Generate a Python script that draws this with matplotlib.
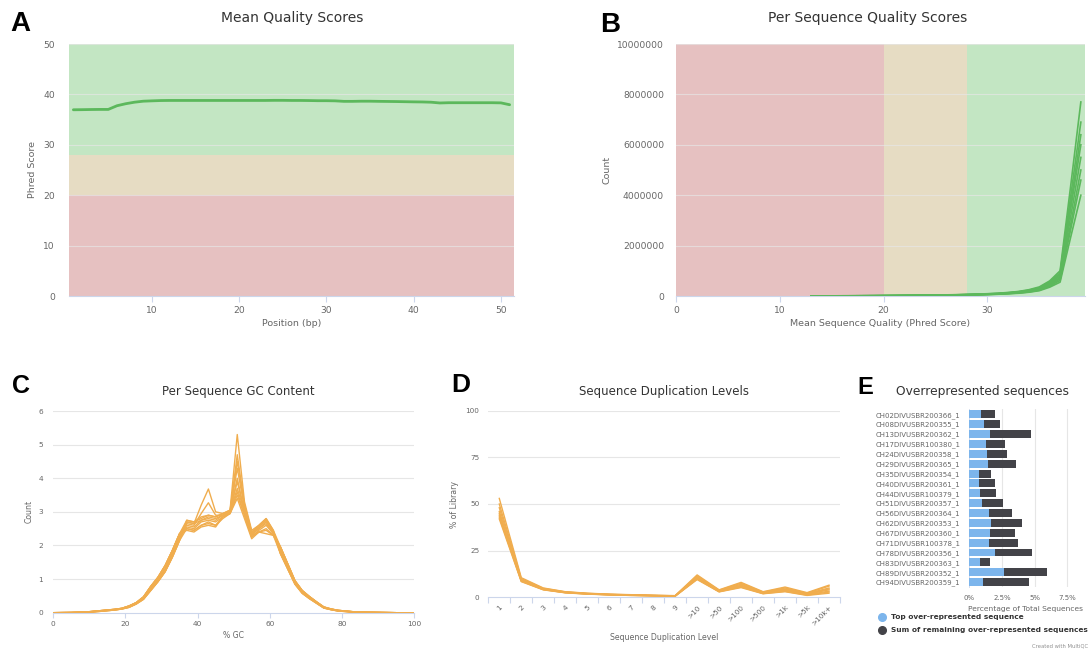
import matplotlib
matplotlib.use('Agg')
import matplotlib.pyplot as plt
from matplotlib.lines import Line2D

plt.rcParams['font.family'] = ['DejaVu Sans']

# ---------------- data ----------------
# A: mean quality per position
posA = list(range(1, 52))
meanA = [36.95, 36.97, 37.0, 37.02, 37.02, 37.75, 38.15, 38.45, 38.65, 38.72,
         38.78, 38.8, 38.8, 38.8, 38.8, 38.8, 38.8, 38.8, 38.8, 38.8,
         38.8, 38.8, 38.8, 38.82, 38.82, 38.8, 38.8, 38.78, 38.75, 38.75,
         38.72, 38.62, 38.62, 38.65, 38.65, 38.62, 38.6, 38.58, 38.55, 38.52,
         38.5, 38.45, 38.3, 38.35, 38.35, 38.35, 38.35, 38.35, 38.35, 38.32,
         37.95]

# B: per sequence quality (counts in millions)
x_qual = [13, 15, 17, 19, 21, 23, 25, 27, 29, 30, 31, 32, 33, 34, 35, 36, 37, 38, 39]
q1 = [0.004, 0.006, 0.009, 0.013, 0.019, 0.027, 0.037, 0.052, 0.075, 0.09, 0.11, 0.14, 0.18, 0.25, 0.36, 0.60, 1.00, 4.30, 7.70]
q2 = [0.004, 0.006, 0.008, 0.012, 0.017, 0.025, 0.034, 0.048, 0.070, 0.085, 0.10, 0.13, 0.17, 0.23, 0.33, 0.55, 0.92, 3.90, 6.90]
q3 = [0.003, 0.005, 0.008, 0.011, 0.016, 0.023, 0.032, 0.045, 0.065, 0.08, 0.095, 0.12, 0.16, 0.21, 0.31, 0.51, 0.86, 3.60, 6.40]
q4 = [0.003, 0.005, 0.007, 0.010, 0.015, 0.021, 0.030, 0.042, 0.060, 0.075, 0.09, 0.11, 0.15, 0.20, 0.29, 0.48, 0.80, 3.40, 6.00]
q5 = [0.003, 0.004, 0.006, 0.009, 0.014, 0.020, 0.028, 0.039, 0.056, 0.07, 0.085, 0.105, 0.14, 0.19, 0.27, 0.45, 0.74, 3.10, 5.50]
q6 = [0.002, 0.004, 0.006, 0.009, 0.013, 0.018, 0.026, 0.036, 0.052, 0.065, 0.08, 0.10, 0.13, 0.17, 0.25, 0.42, 0.68, 2.80, 5.00]
q7 = [0.002, 0.003, 0.005, 0.008, 0.012, 0.017, 0.024, 0.034, 0.048, 0.06, 0.075, 0.095, 0.12, 0.16, 0.23, 0.39, 0.62, 2.60, 4.60]
q8 = [0.002, 0.003, 0.005, 0.007, 0.011, 0.015, 0.022, 0.031, 0.044, 0.055, 0.07, 0.09, 0.11, 0.15, 0.21, 0.35, 0.55, 2.30, 4.00]
qual_series = [q1, q2, q3, q4, q5, q6, q7, q8]
yticks_B = [0, 2000000, 4000000, 6000000, 8000000, 10000000]
ylabels_B = ['0', '2000000', '4000000', '6000000', '8000000', '10000000']

# C: per sequence GC content
x_gc = [0, 5, 9, 13, 17, 19, 21, 23, 25, 27, 29, 31, 33, 35, 37, 39, 41, 43, 45, 47,
        49, 51, 53, 55, 57, 59, 61, 63, 65, 67, 69, 71, 73, 75, 77, 79, 83, 87, 91, 95, 100]
gc_left_a = [0, 0.005, 0.02, 0.06, 0.10, 0.13, 0.20, 0.30, 0.47, 0.78, 1.05, 1.40, 1.85, 2.35]
gc_left_b = [0, 0.004, 0.015, 0.05, 0.09, 0.12, 0.18, 0.28, 0.44, 0.72, 0.98, 1.30, 1.75, 2.25]
gc_left_c = [0, 0.003, 0.01, 0.04, 0.08, 0.11, 0.16, 0.26, 0.40, 0.66, 0.92, 1.22, 1.65, 2.15]
gc_right_a = [1.95, 1.45, 0.95, 0.66, 0.48, 0.32, 0.17, 0.11, 0.07, 0.03, 0.01, 0.005, 0, 0]
gc_right_b = [1.85, 1.38, 0.90, 0.62, 0.45, 0.30, 0.15, 0.10, 0.06, 0.025, 0.01, 0.004, 0, 0]
gc_right_c = [1.75, 1.30, 0.85, 0.58, 0.42, 0.28, 0.14, 0.09, 0.05, 0.02, 0.008, 0.003, 0, 0]
gc_mid_1 = [2.75, 2.70, 2.80, 2.90, 2.85, 2.95, 3.05, 5.30, 3.30, 2.45, 2.60, 2.80, 2.45]
gc_mid_2 = [2.70, 2.65, 3.20, 3.68, 3.00, 2.95, 3.00, 4.70, 3.20, 2.40, 2.55, 2.75, 2.40]
gc_mid_3 = [2.65, 2.60, 2.95, 3.27, 2.90, 2.90, 3.00, 4.30, 3.10, 2.35, 2.50, 2.70, 2.40]
gc_mid_4 = [2.60, 2.55, 2.75, 2.85, 2.80, 2.90, 3.00, 3.90, 3.00, 2.30, 2.50, 2.65, 2.35]
gc_mid_5 = [2.55, 2.50, 2.70, 2.75, 2.70, 2.85, 2.95, 3.60, 2.90, 2.25, 2.45, 2.60, 2.35]
gc_mid_6 = [2.50, 2.45, 2.60, 2.70, 2.60, 2.80, 2.95, 3.40, 2.80, 2.20, 2.40, 2.50, 2.30]
gc_mid_7 = [2.45, 2.40, 2.55, 2.60, 2.55, 2.85, 3.00, 4.00, 3.00, 2.30, 2.40, 2.45, 2.30]
gc_mid_8 = [2.70, 2.65, 2.75, 2.80, 2.75, 2.90, 3.00, 3.70, 3.00, 2.35, 2.55, 2.75, 2.40]
gc_mid_9 = [2.75, 2.70, 2.85, 2.90, 2.85, 2.95, 3.05, 4.50, 3.20, 2.40, 2.60, 2.80, 2.45]
gc_mid_10 = [2.50, 2.45, 2.60, 2.65, 2.60, 2.85, 2.95, 3.50, 2.90, 2.25, 2.40, 2.35, 2.30]
gc_lefts = [gc_left_a, gc_left_b, gc_left_c]
gc_rights = [gc_right_a, gc_right_b, gc_right_c]
gc_mids = [gc_mid_1, gc_mid_2, gc_mid_3, gc_mid_4, gc_mid_5,
           gc_mid_6, gc_mid_7, gc_mid_8, gc_mid_9, gc_mid_10]

# D: sequence duplication levels
dup_levels = ['1', '2', '3', '4', '5', '6', '7', '8', '9', '>10', '>50', '>100',
              '>500', '>1k', '>5k', '>10k+']
d1 = [53, 10.5, 5.0, 3.0, 2.2, 1.7, 1.4, 1.1, 0.9, 12.0, 4.0, 8.0, 3.0, 5.5, 2.5, 6.5]
d2 = [50, 10.0, 4.8, 2.9, 2.1, 1.6, 1.3, 1.0, 0.8, 11.5, 3.8, 7.5, 2.8, 5.0, 2.2, 6.0]
d3 = [48, 9.5, 4.5, 2.8, 2.0, 1.5, 1.2, 1.0, 0.8, 11.0, 3.5, 7.0, 2.6, 4.5, 2.0, 5.0]
d4 = [46, 9.2, 4.4, 2.7, 1.9, 1.5, 1.2, 0.9, 0.7, 10.5, 3.3, 6.5, 2.4, 4.2, 1.8, 4.5]
d5 = [45, 9.0, 4.3, 2.6, 1.9, 1.4, 1.1, 0.9, 0.7, 10.2, 3.2, 6.0, 2.2, 4.0, 1.6, 4.0]
d6 = [44, 8.8, 4.2, 2.5, 1.8, 1.4, 1.1, 0.9, 0.7, 10.0, 3.1, 5.8, 2.1, 3.6, 1.4, 3.3]
d7 = [43, 8.6, 4.1, 2.5, 1.8, 1.3, 1.0, 0.8, 0.6, 9.8, 3.0, 5.5, 2.0, 3.2, 1.2, 2.8]
d8 = [42, 8.4, 4.0, 2.4, 1.7, 1.3, 1.0, 0.8, 0.6, 9.5, 2.9, 5.2, 1.9, 3.0, 1.0, 2.2]
dup_series = [d1, d2, d3, d4, d5, d6, d7, d8]

# E: overrepresented sequences (% of total)
samples = ['CH02DIVUSBR200366_1', 'CH08DIVUSBR200355_1', 'CH13DIVUSBR200362_1',
           'CH17DIVUSBR100380_1', 'CH24DIVUSBR200358_1', 'CH29DIVUSBR200365_1',
           'CH35DIVUSBR200354_1', 'CH40DIVUSBR200361_1', 'CH44DIVUSBR100379_1',
           'CH51DIVUSBR200357_1', 'CH56DIVUSBR200364_1', 'CH62DIVUSBR200353_1',
           'CH67DIVUSBR200360_1', 'CH71DIVUSBR100378_1', 'CH78DIVUSBR200356_1',
           'CH83DIVUSBR200363_1', 'CH89DIVUSBR200352_1', 'CH94DIVUSBR200359_1']
top_pct = [0.92, 1.09, 1.60, 1.25, 1.36, 1.46, 0.71, 0.76, 0.85, 0.99, 1.48, 1.66,
           1.61, 1.53, 1.95, 0.78, 2.62, 1.04]
remaining_pct = [1.03, 1.24, 3.12, 1.50, 1.50, 2.09, 0.98, 1.18, 1.17, 1.61, 1.77, 2.34,
                 1.89, 2.16, 2.83, 0.78, 3.28, 3.53]
xticks_E = [0, 2.5, 5, 7.5]
xlabels_E = ['0%', '2.5%', '5%', '7.5%']

# ---------------- styles ----------------
W, H = 1091, 660
GREEN_BAND = '#c3e6c3'
ORANGE_BAND = '#e6dcc3'
RED_BAND = '#e6c1c1'
LINE_GREEN = '#5cb85c'
ORANGE = '#f0ad4e'
GRID = '#e6e6e6'
AXLINE = '#ccd6eb'
TICKC = '#666666'
TITLEC = '#333333'
BLUE = '#7cb5ec'
DARK = '#434348'

fig = plt.figure(figsize=(W / 100, H / 100), dpi=100)


def ax_px(L, T, R, B):
    return fig.add_axes([L / W, 1 - B / H, (R - L) / W, (B - T) / H])


def pt(p):
    return p * 72 / 100


def ftext(x, y, s, **kw):
    return fig.text(x / W, 1 - y / H, s, **kw)


def style_axes(ax):
    for s in ['top', 'right', 'left']:
        ax.spines[s].set_visible(False)
    ax.spines['bottom'].set_color(AXLINE)
    ax.spines['bottom'].set_linewidth(0.8)
    ax.set_facecolor('none')


def panel_letter(x, y, s, size):
    ftext(x, y, s, fontsize=size, fontweight='bold', family='Liberation Sans',
          ha='center', va='center', color='black')


# ---------------- A ----------------
axA = ax_px(69, 44, 514, 296)
style_axes(axA)
axA.axhspan(28, 50, color=GREEN_BAND, lw=0, zorder=0)
axA.axhspan(20, 28, color=ORANGE_BAND, lw=0, zorder=0)
axA.axhspan(0, 20, color=RED_BAND, lw=0, zorder=0)
for yv in [10, 20, 30, 40, 50]:
    axA.axhline(yv, color=GRID, lw=0.8, zorder=1, alpha=0.7)
axA.plot(posA, meanA, color=LINE_GREEN, lw=2.0, zorder=3, solid_capstyle='round')
axA.set_xlim(0.5, 51.5)
axA.set_ylim(0, 50)
axA.set_xticks([10, 20, 30, 40, 50])
axA.set_yticks([0, 10, 20, 30, 40, 50])
axA.tick_params(axis='x', length=pt(6), color=AXLINE, width=0.8, labelsize=6.6,
                labelcolor=TICKC, pad=pt(4))
axA.tick_params(axis='y', length=0, labelsize=6.6, labelcolor=TICKC, pad=pt(14))
axA.set_xlabel('Position (bp)', fontsize=6.8, color=TICKC, labelpad=pt(4))
axA.set_ylabel('Phred Score', fontsize=6.8, color=TICKC, labelpad=pt(6))
ftext(292, 18, 'Mean Quality Scores', fontsize=10, color=TITLEC, ha='center', va='center')
panel_letter(20, 24, 'A', 20)

# ---------------- B ----------------
axB = ax_px(676, 44, 1085, 296)
style_axes(axB)
axB.axvspan(0, 20, color=RED_BAND, lw=0, zorder=0)
axB.axvspan(20, 28, color=ORANGE_BAND, lw=0, zorder=0)
axB.axvspan(28, 40, color=GREEN_BAND, lw=0, zorder=0)
for yv in yticks_B[1:]:
    axB.axhline(yv, color=GRID, lw=0.8, zorder=1, alpha=0.7)
for s in qual_series:
    axB.plot(x_qual, [v * 1e6 for v in s], color=LINE_GREEN, lw=1.2, zorder=3)
axB.set_xlim(0, 39.4)
axB.set_ylim(0, 10000000)
axB.set_xticks([0, 10, 20, 30])
axB.set_yticks(yticks_B)
axB.set_yticklabels(ylabels_B)
axB.tick_params(axis='x', length=pt(6), color=AXLINE, width=0.8, labelsize=6.6,
                labelcolor=TICKC, pad=pt(4))
axB.tick_params(axis='y', length=0, labelsize=6.6, labelcolor=TICKC, pad=pt(12))
axB.set_xlabel('Mean Sequence Quality (Phred Score)', fontsize=6.8, color=TICKC,
               labelpad=pt(4))
axB.set_ylabel('Count', fontsize=6.8, color=TICKC, labelpad=pt(6))
ftext(868, 18, 'Per Sequence Quality Scores', fontsize=10, color=TITLEC,
      ha='center', va='center')
panel_letter(610, 25, 'B', 20)

# ---------------- C ----------------
axC = ax_px(53.3, 411, 414, 612.7)
style_axes(axC)
for yv in [1, 2, 3, 4, 5, 6]:
    axC.axhline(yv, color=GRID, lw=0.8, zorder=0)
for i, mid in enumerate(gc_mids):
    series = gc_lefts[i % 3] + mid + gc_rights[i % 3]
    axC.plot(x_gc, series, color=ORANGE, lw=1.0, zorder=3)
axC.set_xlim(0, 100)
axC.set_ylim(0, 6)
axC.set_xticks([0, 20, 40, 60, 80, 100])
axC.set_yticks([0, 1, 2, 3, 4, 5, 6])
axC.tick_params(axis='x', length=pt(5), color=AXLINE, width=0.8, labelsize=5.3,
                labelcolor=TICKC, pad=pt(3))
axC.tick_params(axis='y', length=0, labelsize=5.3, labelcolor=TICKC, pad=pt(10))
axC.set_xlabel('% GC', fontsize=5.6, color=TICKC, labelpad=pt(4))
axC.set_ylabel('Count', fontsize=5.6, color=TICKC, labelpad=pt(5))
ftext(238, 391, 'Per Sequence GC Content', fontsize=8.5, color=TITLEC,
      ha='center', va='center')
panel_letter(21, 386, 'C', 18)

# ---------------- D ----------------
axD = ax_px(488.3, 410.7, 840, 597.3)
style_axes(axD)
for yv in [25, 50, 75, 100]:
    axD.axhline(yv, color=GRID, lw=0.8, zorder=0)
xd = list(range(len(dup_levels)))
for s in dup_series:
    axD.plot(xd, s, color=ORANGE, lw=1.0, zorder=3)
axD.set_xlim(-0.5, len(dup_levels) - 0.5)
axD.set_ylim(0, 100)
axD.set_xticks(xd)
axD.set_xticklabels(dup_levels, rotation=45, ha='right', rotation_mode='anchor')
axD.set_xticks([v - 0.5 for v in range(len(dup_levels) + 1)], minor=True)
axD.tick_params(axis='x', which='major', length=0, labelsize=5.2, labelcolor=TICKC,
                pad=pt(7))
axD.tick_params(axis='x', which='minor', length=pt(6), color=AXLINE, width=0.8)
axD.set_yticks([0, 25, 50, 75, 100])
axD.tick_params(axis='y', length=0, labelsize=5.2, labelcolor=TICKC, pad=pt(9))
axD.set_xlabel('Sequence Duplication Level', fontsize=5.6, color=TICKC, labelpad=pt(6))
axD.set_ylabel('% of Library', fontsize=5.6, color=TICKC, labelpad=pt(6))
ftext(664, 391, 'Sequence Duplication Levels', fontsize=8.5, color=TITLEC,
      ha='center', va='center')
panel_letter(461, 385, 'D', 19)

# ---------------- E ----------------
axE = ax_px(969.3, 409.4, 1074, 587.1)
for s in ['top', 'right', 'bottom']:
    axE.spines[s].set_visible(False)
axE.spines['left'].set_color(AXLINE)
axE.spines['left'].set_linewidth(0.6)
ye = list(range(len(samples)))
axE.barh(ye, top_pct, height=0.8, color=BLUE, zorder=3, lw=0)
axE.barh(ye, remaining_pct, left=top_pct, height=0.8, color=DARK, zorder=3, lw=0)
for xv in xticks_E[1:]:
    axE.axvline(xv, color=GRID, lw=0.8, zorder=0)
axE.set_xlim(0, 8)
axE.set_ylim(len(samples) - 0.5, -0.5)
axE.set_yticks(ye)
axE.set_yticklabels(samples)
axE.set_xticks(xticks_E)
axE.set_xticklabels(xlabels_E)
axE.tick_params(axis='y', length=0, labelsize=5.0, labelcolor=TICKC, pad=pt(9))
axE.tick_params(axis='x', length=0, labelsize=5.0, labelcolor=TICKC, pad=pt(8))
ftext(1025, 609.3, 'Percentage of Total Sequences', fontsize=5.4, color=TICKC,
      ha='center', va='center')
ftext(983, 391.7, 'Overrepresented sequences', fontsize=8.8, color=TITLEC,
      ha='center', va='center')
panel_letter(865, 387.5, 'E', 17)

# legend
for yy, col, lab in [(616.7, BLUE, 'Top over-represented sequence'),
                     (630.0, DARK, 'Sum of remaining over-represented sequences')]:
    fig.add_artist(Line2D([882.3 / W], [1 - yy / H], marker='o', markersize=5.5,
                          color=col, linestyle='none', transform=fig.transFigure))
    ftext(891, yy, lab, fontsize=5.3, fontweight='bold', color='#333333',
          ha='left', va='center')
ftext(1032, 646, 'Created with MultiQC', fontsize=3.8, color='#909090',
      ha='left', va='center')

fig.savefig('out.png', dpi=100)
